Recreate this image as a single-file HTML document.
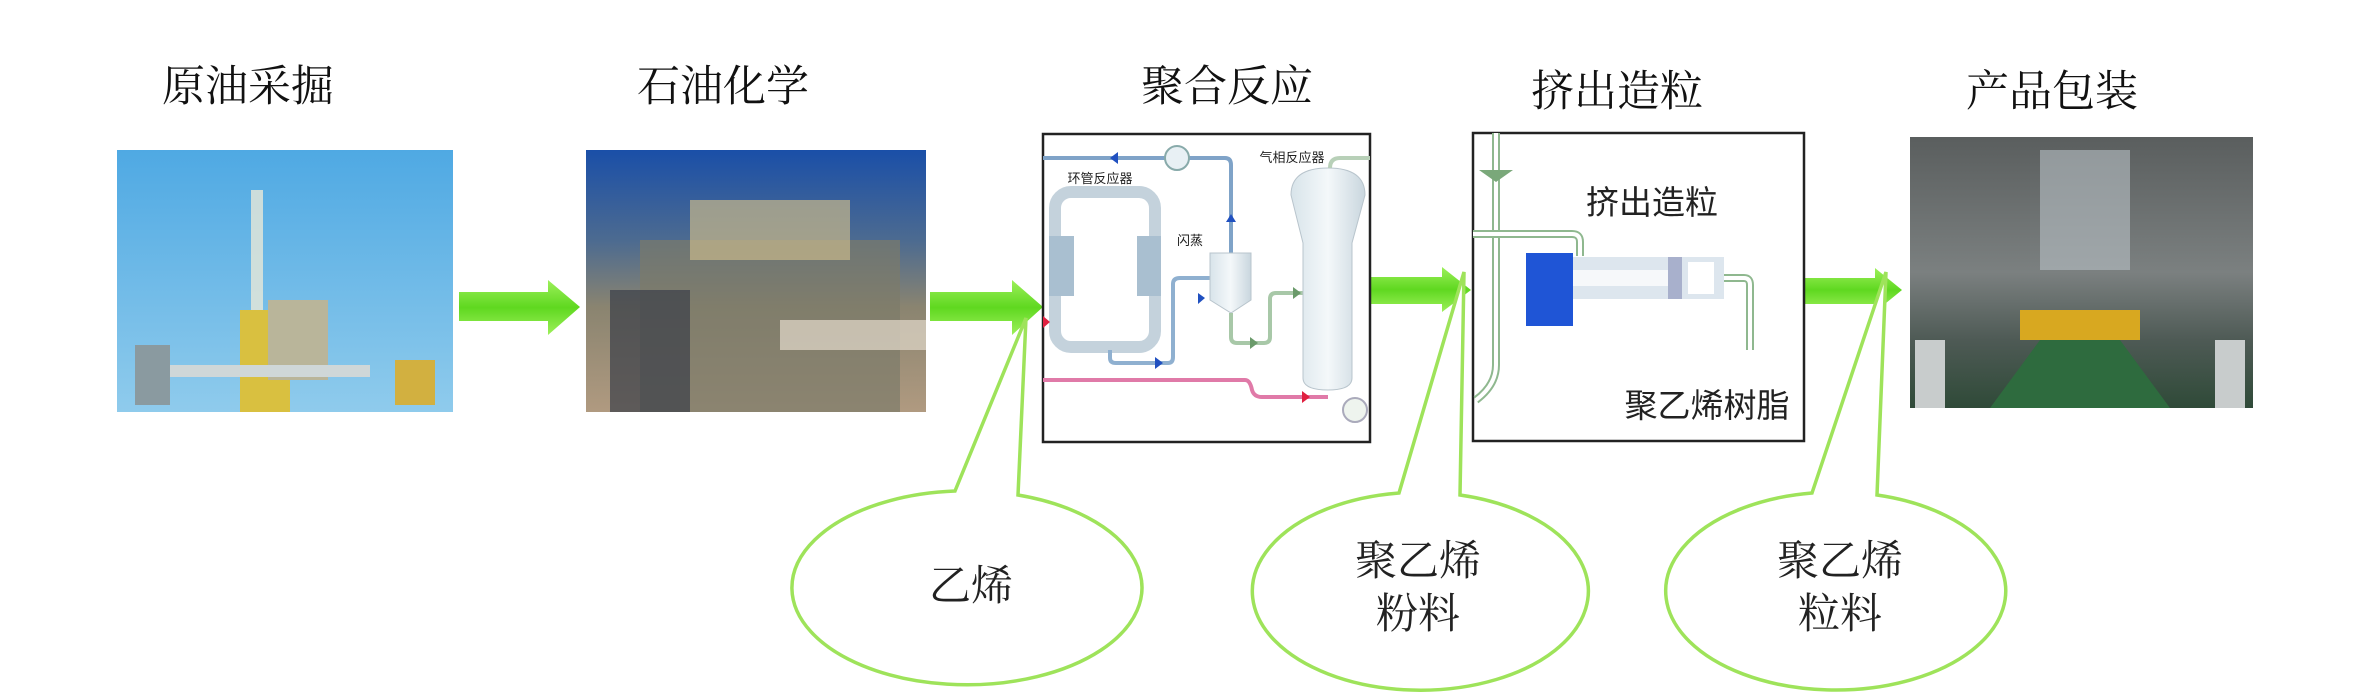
<!DOCTYPE html>
<html><head><meta charset="utf-8"><style>
html,body{margin:0;padding:0;background:#fff;}
svg{display:block;}
.t{font-family:"Liberation Serif","Noto Serif CJK SC",serif;font-size:43px;fill:#111;}
.e{font-family:"Liberation Serif","Noto Serif CJK SC",serif;font-size:42px;fill:#222;}
.s{font-family:"Liberation Sans","Noto Sans CJK SC",sans-serif;fill:#222;}
</style></head><body>
<svg width="2362" height="699" viewBox="0 0 2362 699" xmlns="http://www.w3.org/2000/svg">
<defs>
<linearGradient id="sky" x1="0" y1="0" x2="0" y2="1"><stop offset="0" stop-color="#4fa9e3"/><stop offset="1" stop-color="#8fcbec"/></linearGradient>
<linearGradient id="ind" x1="0" y1="0" x2="0" y2="1"><stop offset="0" stop-color="#1a4fa8"/><stop offset="0.35" stop-color="#4d6b90"/><stop offset="0.6" stop-color="#8a8470"/><stop offset="1" stop-color="#b09a80"/></linearGradient>
<linearGradient id="hall" x1="0" y1="0" x2="0" y2="1"><stop offset="0" stop-color="#5a5e5e"/><stop offset="0.5" stop-color="#7b8080"/><stop offset="0.75" stop-color="#4e5a55"/><stop offset="1" stop-color="#2f4a38"/></linearGradient>
<linearGradient id="arr" x1="0" y1="0" x2="0" y2="1"><stop offset="0" stop-color="#9df05a"/><stop offset="0.5" stop-color="#5fd820"/><stop offset="1" stop-color="#9df05a"/></linearGradient>
<linearGradient id="col" x1="0" y1="0" x2="1" y2="0"><stop offset="0" stop-color="#d8e4ea"/><stop offset="0.5" stop-color="#f4f8fa"/><stop offset="1" stop-color="#c9d6de"/></linearGradient>
</defs>

<!-- titles -->
<text class="t" x="248" y="101" text-anchor="middle">原油采掘</text>
<text class="t" x="723" y="101" text-anchor="middle">石油化学</text>
<text class="t" x="1227" y="101" text-anchor="middle">聚合反应</text>
<text class="t" x="1617" y="106" text-anchor="middle">挤出造粒</text>
<text class="t" x="2052" y="106" text-anchor="middle">产品包装</text>

<!-- image 1: offshore rig -->
<rect x="117" y="150" width="336" height="262" fill="url(#sky)"/>
<rect x="251" y="190" width="12" height="180" fill="#e8e8d8" opacity="0.8"/>
<rect x="240" y="310" width="50" height="102" fill="#d9c040"/>
<rect x="268" y="300" width="60" height="80" fill="#b9b59a"/>
<rect x="170" y="365" width="200" height="12" fill="#cfd7d8"/>
<rect x="135" y="345" width="35" height="60" fill="#8a9aa0"/>
<rect x="395" y="360" width="40" height="45" fill="#d2b040"/>

<!-- image 2: refinery -->
<rect x="586" y="150" width="340" height="262" fill="url(#ind)"/>
<rect x="640" y="240" width="260" height="172" fill="#7c7a6a" opacity="0.7"/>
<rect x="690" y="200" width="160" height="60" fill="#c8b88a" opacity="0.7"/>
<rect x="610" y="290" width="80" height="122" fill="#3a3e48" opacity="0.7"/>
<rect x="780" y="320" width="146" height="30" fill="#d8d0c0" opacity="0.8"/>

<!-- image 3: hall -->
<rect x="1910" y="137" width="343" height="271" fill="url(#hall)"/>
<rect x="2040" y="150" width="90" height="120" fill="#b8c0c4" opacity="0.6"/>
<rect x="2020" y="310" width="120" height="30" fill="#d8a820"/>
<rect x="1915" y="340" width="30" height="68" fill="#c8cccc"/>
<rect x="2215" y="340" width="30" height="68" fill="#c8cccc"/>
<polygon points="2040,340 2120,340 2170,408 1990,408" fill="#2e6b3e"/>

<!-- big arrows -->
<polygon points="459,292 548,292 548,280 580,307 548,335 548,321 459,321" fill="url(#arr)"/>
<polygon points="930,292 1012,292 1012,280 1043,307 1012,335 1012,321 930,321" fill="url(#arr)"/>
<polygon points="1369,277 1442,277 1442,267 1471,290 1442,312 1442,304 1369,304" fill="url(#arr)"/>
<polygon points="1804,278 1875,278 1875,268 1902,290 1875,312 1875,304 1804,304" fill="url(#arr)"/>

<!-- box 1: polymerization -->
<rect x="1043" y="134" width="327" height="308" fill="#fff" stroke="#222" stroke-width="2.5"/>
<path d="M1043,158 H1225 Q1231,158 1231,165 V253" fill="none" stroke="#7fa3c8" stroke-width="4"/>
<circle cx="1177" cy="158" r="12" fill="#e8f0f4" stroke="#8aa" stroke-width="2"/>
<polygon points="1118,152 1118,164 1110,158" fill="#2050c0"/>
<polygon points="1226,222 1236,222 1231,214" fill="#2050c0"/>
<rect x="1055" y="192" width="100" height="155" rx="16" fill="none" stroke="#c4d2dc" stroke-width="12"/>
<rect x="1049" y="236" width="25" height="60" fill="#a9bfd0"/>
<rect x="1137" y="236" width="24" height="60" fill="#a9bfd0"/>
<path d="M1110,350 V358 Q1110,363 1116,363 H1168 Q1173,363 1173,357 V284 Q1173,278 1180,278 H1210" fill="none" stroke="#8fb0d0" stroke-width="4"/>
<polygon points="1155,357 1155,369 1163,363" fill="#2050c0"/>
<polygon points="1198,293 1198,304 1205,298" fill="#2050c0"/>
<polygon points="1210,253 1251,253 1251,300 1231,313 1210,300" fill="url(#col)" stroke="#b8c4cc"/>
<path d="M1231,313 V337 Q1231,343 1237,343 H1264 Q1270,343 1270,337 V299 Q1270,293 1276,293 H1303" fill="none" stroke="#a8c8a8" stroke-width="4"/>
<polygon points="1250,337 1250,349 1258,343" fill="#6a9a6a"/>
<polygon points="1293,287 1293,299 1301,293" fill="#6a9a6a"/>
<path d="M1291,195 Q1291,168 1328,168 Q1365,168 1365,195 L1352,243 V378 Q1352,390 1328,390 Q1303,390 1303,378 V243 Z" fill="url(#col)" stroke="#b8c4cc"/>
<path d="M1043,380 H1245 Q1250,380 1252,390 Q1254,397 1262,397 H1328" fill="none" stroke="#e07aa8" stroke-width="4"/>
<polygon points="1302,391 1302,403 1310,397" fill="#e02040"/>
<polygon points="1043,316 1043,328 1050,322" fill="#e02040"/>
<circle cx="1355" cy="410" r="12" fill="#eef4ee" stroke="#aab" stroke-width="2"/>
<path d="M1330,168 Q1330,158 1340,158 H1370" fill="none" stroke="#b8d0b8" stroke-width="4"/>
<text class="s" x="1100" y="183" font-size="13" text-anchor="middle">环管反应器</text>
<text class="s" x="1292" y="162" font-size="13" text-anchor="middle">气相反应器</text>
<text class="s" x="1190" y="245" font-size="13" text-anchor="middle">闪蒸</text>

<!-- box 2: extrusion -->
<rect x="1473" y="133" width="331" height="308" fill="#fff" stroke="#222" stroke-width="2.5"/>
<path d="M1496,133 V365 Q1496,385 1476,400" fill="none" stroke="#8fb88f" stroke-width="8"/>
<path d="M1496,133 V365 Q1496,385 1476,400" fill="none" stroke="#fff" stroke-width="4"/>
<polygon points="1479,170 1513,170 1496,182" fill="#7aa87a"/>
<path d="M1473,234 H1572 Q1580,234 1580,242 V256" fill="none" stroke="#8fb88f" stroke-width="8"/>
<path d="M1473,234 H1572 Q1580,234 1580,242 V256" fill="none" stroke="#fff" stroke-width="4"/>
<path d="M1724,278 H1744 Q1750,278 1750,285 V350" fill="none" stroke="#8fb88f" stroke-width="8"/>
<path d="M1724,278 H1744 Q1750,278 1750,285 V350" fill="none" stroke="#fff" stroke-width="4"/>
<rect x="1573" y="257" width="151" height="42" fill="#dde6ee"/>
<rect x="1573" y="270" width="95" height="16" fill="#f6f8fa"/>
<rect x="1668" y="257" width="14" height="42" fill="#a8b0cc"/>
<rect x="1688" y="262" width="26" height="32" fill="#fff"/>
<rect x="1526" y="253" width="47" height="73" fill="#1f55d6"/>
<text class="s" x="1652" y="214" font-size="33" text-anchor="middle">挤出造粒</text>
<text class="s" x="1707" y="417" font-size="33" text-anchor="middle">聚乙烯树脂</text>

<!-- callouts -->
<g fill="#fff" stroke="#9ee35a" stroke-width="3.5">
<path d="M955,491 L1026,318 L1018,495 A175,97 0 1 1 955,491 Z"/>
<path d="M1399,493 L1464,272 L1460,495 A168,99 0 1 1 1399,493 Z"/>
<path d="M1812,493 L1886,272 L1877,495 A170,99 0 1 1 1812,493 Z"/>
</g>
<text class="e" x="971" y="600" text-anchor="middle">乙烯</text>
<text class="e" x="1418" y="575" text-anchor="middle">聚乙烯</text>
<text class="e" x="1418" y="628" text-anchor="middle">粉料</text>
<text class="e" x="1840" y="575" text-anchor="middle">聚乙烯</text>
<text class="e" x="1840" y="628" text-anchor="middle">粒料</text>
</svg>
</body></html>
